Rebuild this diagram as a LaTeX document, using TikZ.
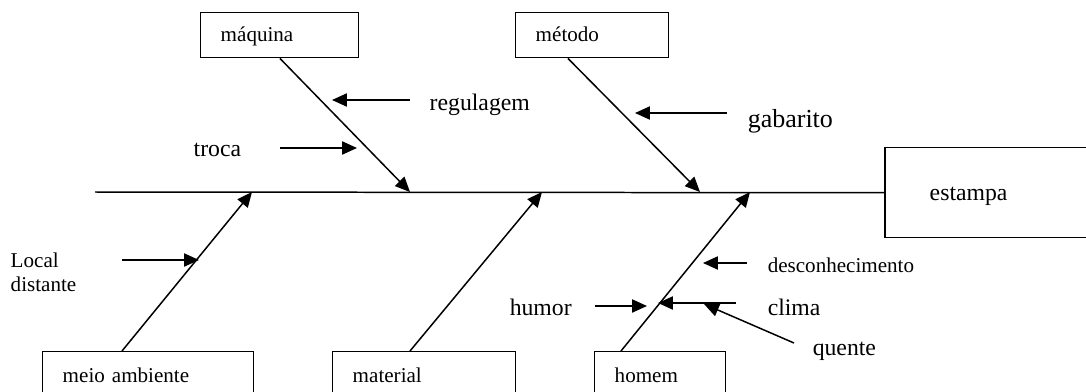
\documentclass[tikz,border=0pt]{standalone}
\usepackage{fontspec}
\setmainfont{Liberation Serif}
\usetikzlibrary{arrows.meta,calc,positioning}

\tikzset{
    caixa/.style={draw, rectangle, anchor=north west, align=left, inner xsep=0.4cm, inner ysep=0pt, font=\fontsize{12}{14}\selectfont},
    caixatopo/.style={caixa, minimum height=0.9cm, text height=0.93em, text depth=0.22em},
    rotulo/.style={anchor=base west, inner sep=0pt, font=\fontsize{13.5}{16}\selectfont},
    rotulop/.style={rotulo, font=\fontsize{12}{14}\selectfont}
}

\begin{document}
\begin{tikzpicture}[>={Triangle[length=8.5pt,width=7.5pt]}, x=0.02cm, y=-0.02cm, line width=0.85pt]
    \useasboundingbox (0,0) rectangle (1086,392);
    \clip (0,0) rectangle (1086,392);

    % Nodes {efeito, maquina, metodo, meio, material, homem}
    \node [caixa, inner xsep=0.9cm, text width=2.44cm, minimum height=1.8cm, text height=1.11em, text depth=0.22em, font=\fontsize{13.5}{16}\selectfont]
                                                        (efeito)   at (884,147) {estampa};
    \node [caixatopo, text width=2.36cm]                    (maquina)  at (200,12)  {máquina};
    \node [caixatopo, text width=2.26cm]                    (metodo)   at (515,12)  {método};
    \node [caixa, text width=3.42cm, minimum height=0.96cm] (meio)     at (42,351)  {meio ambiente};
    \node [caixa, text width=2.86cm, minimum height=0.96cm] (material) at (332,351) {material};
    \node [caixa, text width=1.82cm, minimum height=0.96cm] (homem)    at (594,351) {homem};

    % Spine
    \coordinate (cauda) at (95,192);
    \draw (cauda) -- (efeito.west);

    % Points on the spine and on the boxes
    \coordinate (pmaq)  at (410,192);
    \coordinate (pmet)  at (700,192);
    \coordinate (pmeio) at (252,192);
    \coordinate (pmat)  at (542,192);
    \coordinate (phom)  at (750,192);
    \coordinate (omaq)  at ($(maquina.south west)+(80,0)$);
    \coordinate (omet)  at ($(metodo.south west)+(53,0)$);
    \coordinate (omeio) at ($(meio.north west)+(80,0)$);
    \coordinate (omat)  at ($(material.north west)+(78,0)$);
    \coordinate (ohom)  at ($(homem.north west)+(27,0)$);

    % Bones
    \path [->]  (omaq)  edge  (pmaq);
    \path [->]  (omet)  edge  (pmet);
    \path [->]  (omeio) edge  (pmeio);
    \path [->]  (omat)  edge  (pmat);
    \path [->]  (ohom)  edge  (phom);

    % Labels {troca, regulagem, gabarito, local, desc, clima, humor, quente}
    \node [rotulo]                                  (troca)     at (193,156) {troca};
    \node [rotulo]                                  (regulagem) at (429,110) {regulagem};
    \node [rotulo, font=\fontsize{14.8}{17}\selectfont] (gabarito)  at (747,127) {gabarito};
    \node [rotulop, anchor=west, align=left, font=\fontsize{12}{13.7}\selectfont]
                                                    (local)     at (10,272)  {Local\\distante};
    \node [rotulop]                                 (desc)      at (767,272) {desconhecimento};
    \node [rotulo]                                  (clima)     at (767,315) {clima};
    \node [rotulo]                                  (humor)     at (509,315) {humor};
    \node [rotulo]                                  (quente)    at (812,355) {quente};

    % Small arrows
    \coordinate (ttroca) at (280,148);  \coordinate (htroca) at (357,148);
    \coordinate (treg)   at (410,100);  \coordinate (hreg)   at (332,100);
    \coordinate (tgab)   at (727,113);  \coordinate (hgab)   at (635,113);
    \coordinate (tloc)   at (122,260);  \coordinate (hloc)   at (199,260);
    \coordinate (tdesc)  at (747,263);  \coordinate (hdesc)  at (703,263);
    \coordinate (tcli)   at (736,303);  \coordinate (hcli)   at (658,303);
    \coordinate (thum)   at (595,306);  \coordinate (hhum)   at (647,306);
    \coordinate (tque)   at (794,343);  \coordinate (hque)   at (704,304);

    \path [->]  (ttroca) edge  (htroca);
    \path [->]  (treg)   edge  (hreg);
    \path [->]  (tgab)   edge  (hgab);
    \path [->]  (tloc)   edge  (hloc);
    \path [->]  (tdesc)  edge  (hdesc);
    \path [->]  (tcli)   edge  (hcli);
    \path [->]  (thum)   edge  (hhum);
    \path [->]  (tque)   edge  (hque);
\end{tikzpicture}
\end{document}
